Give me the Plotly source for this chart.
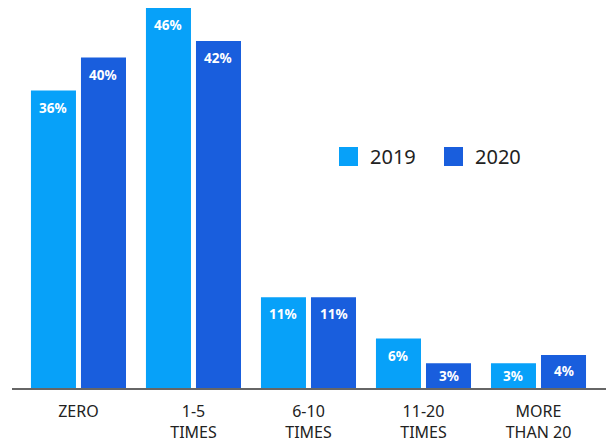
import plotly.graph_objects as go

# Survey answers: how often, share of respondents per year
categories = ["ZERO", "1-5<br>TIMES", "6-10<br>TIMES", "11-20<br>TIMES", "MORE<br>THAN 20"]
years = ["2019", "2020"]
values_2019 = [36, 46, 11, 6, 3]
values_2020 = [40, 42, 11, 3, 4]

colors = ["#07A1F9", "#195EDD"]
series = [values_2019, values_2020]

FONT = "Noto Sans"
BARGAP = 0.13
GROUPGAP = 0.1
LABEL_DROP = 2.1  # label sits this far (in % units) below the bar top

x_idx = list(range(len(categories)))

fig = go.Figure()
for name, vals, col in zip(years, series, colors):
    fig.add_trace(go.Bar(
        x=x_idx, y=vals, name=name,
        marker=dict(color=col, line=dict(width=0)),
        showlegend=False, hoverinfo="skip",
    ))

# value labels inside the top of each bar
annotations = []
slot = (1 - BARGAP) / 2
for k, vals in enumerate(series):
    for i, v in enumerate(vals):
        annotations.append(dict(
            x=i + (k - 0.5) * slot, y=v - min(LABEL_DROP, v / 2),
            xref="x", yref="y", text=f"{v}%", showarrow=False,
            font=dict(family=FONT, size=13.5, color="white", weight="bold"),
            xanchor="center", yanchor="middle",
        ))

# legend: coloured squares with year captions
legend_x = [339, 444]
legend_y = (147, 166)
shapes = []
for lx, name, col in zip(legend_x, years, colors):
    shapes.append(dict(
        type="rect", xref="paper", yref="paper",
        x0=(lx - 12) / 594, x1=(lx + 19 - 12) / 594,
        y0=1 - legend_y[1] / 388, y1=1 - legend_y[0] / 388,
        fillcolor=col, line=dict(width=0),
    ))
    annotations.append(dict(
        x=(lx + 29 - 12) / 594, y=1 - (legend_y[0] + legend_y[1]) / 2 / 388,
        xref="paper", yref="paper", text=name, showarrow=False,
        font=dict(family=FONT, size=20, color="#222222"),
        xanchor="left", yanchor="middle",
    ))

fig.update_layout(
    width=606, height=445,
    margin=dict(l=12, r=0, t=0, b=57),
    paper_bgcolor="white", plot_bgcolor="white",
    barmode="group", bargap=BARGAP, bargroupgap=GROUPGAP,
    annotations=annotations, shapes=shapes,
    font=dict(family=FONT, color="#222222"),
    xaxis=dict(
        tickmode="array", tickvals=x_idx, ticktext=categories,
        range=[-0.578, 4.587], showgrid=False, zeroline=False,
        showline=True, linecolor="#666666", linewidth=2,
        ticks="", ticklabelstandoff=8,
        tickfont=dict(family=FONT, size=16, color="#222222"),
        fixedrange=True,
    ),
    yaxis=dict(
        range=[0, 46.97], visible=False, showgrid=False, zeroline=False,
        fixedrange=True,
    ),
)

fig.write_html("out.html")
